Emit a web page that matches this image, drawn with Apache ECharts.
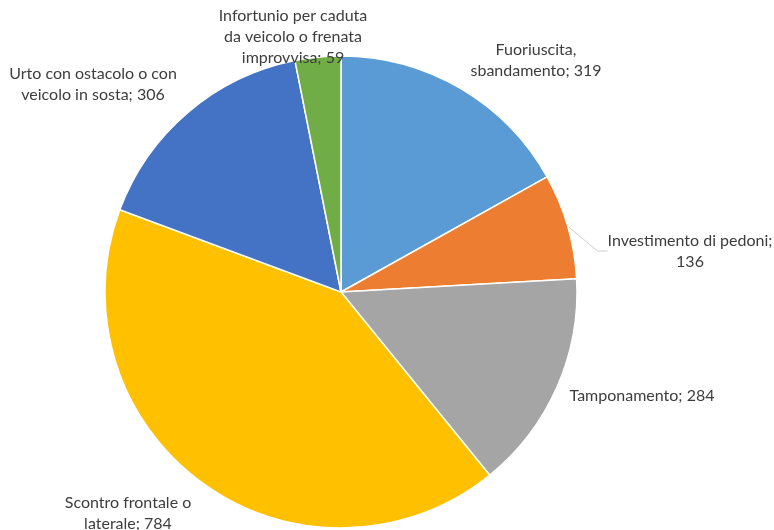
<!DOCTYPE html>
<html>
<head>
<meta charset="utf-8">
<style>
  html, body { margin: 0; padding: 0; background: #ffffff; }
  #chart { width: 774px; height: 530px; }
</style>
<script src="https://cdn.jsdelivr.net/npm/echarts@6/dist/echarts.min.js"></script>
</head>
<body>
<div id="chart"></div>
<script>
// Accident types (clockwise from 12 o'clock) and their counts
const categories = [
  'Fuoriuscita, sbandamento',
  'Investimento di pedoni',
  'Tamponamento',
  'Scontro frontale o laterale',
  'Urto con ostacolo o con veicolo in sosta',
  'Infortunio per caduta da veicolo o frenata improvvisa'
];
const values = [319, 136, 284, 784, 306, 59];
const sliceColors = ['#5b9bd5', '#ed7d31', '#a5a5a5', '#ffc000', '#4472c4', '#70ad47'];

// Label text, wrapped as "category; value"
const labelLines = [
  ['Fuoriuscita,', 'sbandamento; {v}'],
  ['Investimento di pedoni;', '{v}'],
  ['Tamponamento; {v}'],
  ['Scontro frontale o', 'laterale; {v}'],
  ['Urto con ostacolo o con', 'veicolo in sosta; {v}'],
  ['Infortunio per caduta', 'da veicolo o frenata', 'improvvisa; {v}']
];
// Label anchor points (centre of text block)
const labelSpots = [
  [536, 60], [690, 251], [642, 396], [128, 513], [93, 84], [293, 37]
];

const chart = echarts.init(document.getElementById('chart'), null, { renderer: 'canvas' });

chart.setOption({
  backgroundColor: '#ffffff',
  animation: false,
  series: [{
    type: 'pie',
    center: [341, 292],
    radius: [0, 236],
    startAngle: 90,
    clockwise: true,
    avoidLabelOverlap: false,
    data: categories.map((name, i) => ({
      name: name,
      value: values[i],
      itemStyle: { color: sliceColors[i] },
      labelLine: { show: i === 1 }
    })),
    itemStyle: { borderColor: '#ffffff', borderWidth: 1.5 },
    label: {
      show: true,
      position: 'outside',
      color: '#3d3d3d',
      fontFamily: 'Lato, "Open Sans", sans-serif',
      fontSize: 16,
      lineHeight: 21,
      align: 'center',
      formatter: (p) => labelLines[p.dataIndex].join('\n').replace('{v}', p.value)
    },
    labelLine: {
      length: 10,
      length2: 10,
      lineStyle: { color: '#d0d0d0', width: 1 }
    },
    labelLayout: (params) => {
      const s = labelSpots[params.dataIndex];
      return { x: s[0], y: s[1], align: 'center', verticalAlign: 'middle' };
    },
    emphasis: { disabled: true }
  }]
});
</script>
</body>
</html>
